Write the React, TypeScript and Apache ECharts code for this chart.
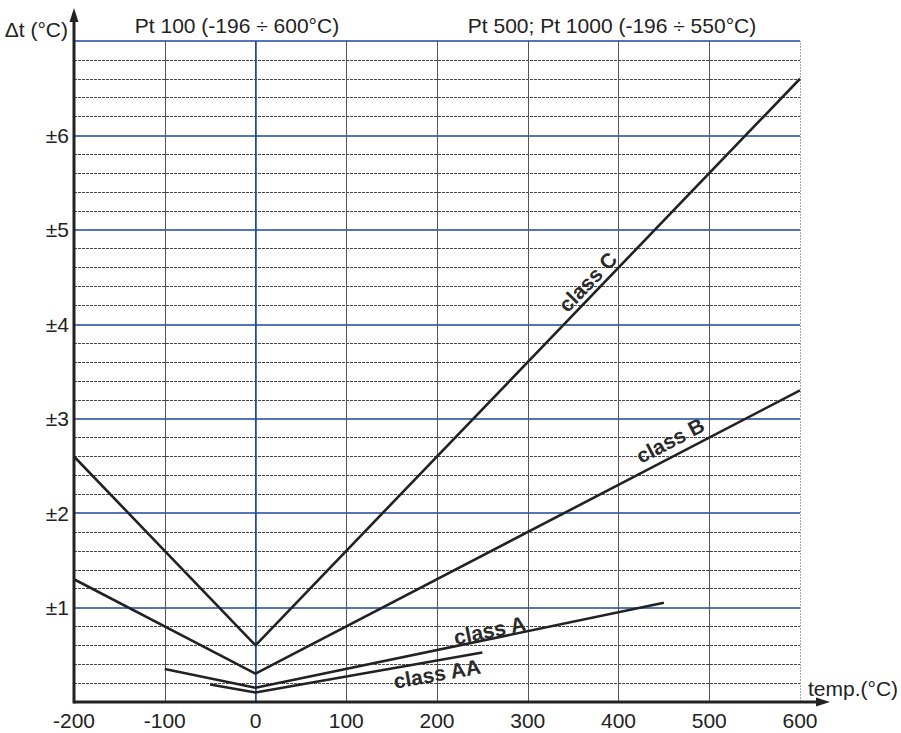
import React, { useEffect, useRef } from 'react';
import * as echarts from 'echarts';

const xMin = -200;
const xMax = 600;
const yMin = 0;
const yMax = 7;

const classC: number[][] = [[-200, 2.6], [0, 0.6], [600, 6.6]];
const classB: number[][] = [[-200, 1.3], [0, 0.3], [600, 3.3]];
const classA: number[][] = [[-100, 0.35], [0, 0.15], [450, 1.05]];
const classAA: number[][] = [[-50, 0.185], [0, 0.1], [250, 0.525]];

const seriesNames = ['class C', 'class B', 'class A', 'class AA'];
const seriesData = [classC, classB, classA, classAA];
const labelPos: number[][] = [[366, 4.45], [457, 2.77], [258, 0.76], [200, 0.3]];
const labelRot = [46, 27.5, 11.8, 10];

const FONT = '"Liberation Sans", Arial, sans-serif';
const BLUE = '#1f44a0';
const INK = '#222';

export default function App() {
  const ref = useRef<HTMLDivElement>(null);
  useEffect(() => {
    if (!ref.current) return;
    const chart = echarts.init(ref.current, null, { renderer: 'svg' });
    const series: any[] = seriesData.map((d, i) => ({
      type: 'line',
      name: seriesNames[i],
      data: d,
      showSymbol: false,
      lineStyle: { color: INK, width: 2.6 },
      z: 5,
      markPoint: {
        symbol: 'circle',
        symbolSize: 0,
        data: [{ coord: labelPos[i], value: seriesNames[i] }],
        label: {
          show: true,
          position: 'inside',
          formatter: seriesNames[i],
          rotate: labelRot[i],
          fontFamily: FONT,
          fontWeight: 'bold',
          fontSize: 21,
          color: '#2a2a2a',
        },
      },
    }));
    series.push({
      type: 'line',
      data: [],
      markLine: {
        symbol: 'none',
        silent: true,
        label: { show: false },
        data: [
          { xAxis: 0, lineStyle: { color: BLUE, width: 1.5, type: 'solid' } },
          { xAxis: 600, lineStyle: { color: '#aaa', width: 1, type: [2, 1] } },
        ],
      },
      z: 3,
    });
    chart.setOption({
      animation: false,
      grid: { left: 74, right: 101, top: 41, bottom: 31 },
      xAxis: {
        type: 'value',
        min: xMin,
        max: xMax,
        interval: 100,
        axisLine: { show: false },
        axisTick: { show: false },
        axisLabel: { fontFamily: FONT, fontSize: 21, color: INK, margin: 8 },
        splitLine: { show: true, showMaxLine: false, lineStyle: { color: '#555', width: 1 } },
      },
      yAxis: {
        type: 'value',
        min: yMin,
        max: yMax,
        interval: 1,
        axisLine: { show: false },
        axisTick: { show: false },
        axisLabel: {
          fontFamily: FONT,
          fontSize: 21,
          color: INK,
          margin: 5,
          formatter: (v: number) => (v > 0 && v < 7 ? '±' + v : ''),
        },
        splitLine: { show: true, lineStyle: { color: BLUE, width: 1.5 } },
        minorTick: { show: false, splitNumber: 5 },
        minorSplitLine: { show: true, lineStyle: { color: '#444', width: 1, type: [3, 1] } },
      },
      series,
    });
    const o = chart.convertToPixel({ gridIndex: 0 } as any, [xMin, yMin]) as number[];
    const xe = chart.convertToPixel({ gridIndex: 0 } as any, [xMax, yMax]) as number[];
    const ox = o[0], oy = o[1];
    const xTip = xe[0] + 30;
    const yTip = xe[1] - 33;
    const tf = `21px ${FONT}`;
    chart.setOption({
      graphic: [
        { type: 'line', shape: { x1: ox, y1: oy, x2: xTip - 10, y2: oy }, style: { stroke: INK, lineWidth: 3 }, z: 10 },
        { type: 'polygon', shape: { points: [[xTip, oy], [xTip - 14, oy - 4.5], [xTip - 14, oy + 4.5]] }, style: { fill: INK }, z: 10 },
        { type: 'line', shape: { x1: ox, y1: oy + 1.5, x2: ox, y2: yTip + 10 }, style: { stroke: INK, lineWidth: 3 }, z: 10 },
        { type: 'polygon', shape: { points: [[ox, yTip], [ox - 4.5, yTip + 14], [ox + 4.5, yTip + 14]] }, style: { fill: INK }, z: 10 },
        { type: 'text', x: 68, y: 29, style: { text: 'Δt (°C)', font: tf, fill: INK, align: 'right', verticalAlign: 'middle' }, z: 10 },
        { type: 'text', x: 237, y: 25, style: { text: 'Pt 100 (-196 ÷ 600°C)', font: tf, fill: INK, align: 'center', verticalAlign: 'middle' }, z: 10 },
        { type: 'text', x: 612, y: 25, style: { text: 'Pt 500; Pt 1000 (-196 ÷ 550°C)', font: tf, fill: INK, align: 'center', verticalAlign: 'middle' }, z: 10 },
        { type: 'text', x: 808, y: 688, style: { text: 'temp.(°C)', font: tf, fill: INK, align: 'left', verticalAlign: 'middle' }, z: 10 },
      ],
    });
    return () => chart.dispose();
  }, []);
  return <div ref={ref} style={{ width: 901, height: 733, position: 'absolute', left: 0, top: 0 }} />;
}
